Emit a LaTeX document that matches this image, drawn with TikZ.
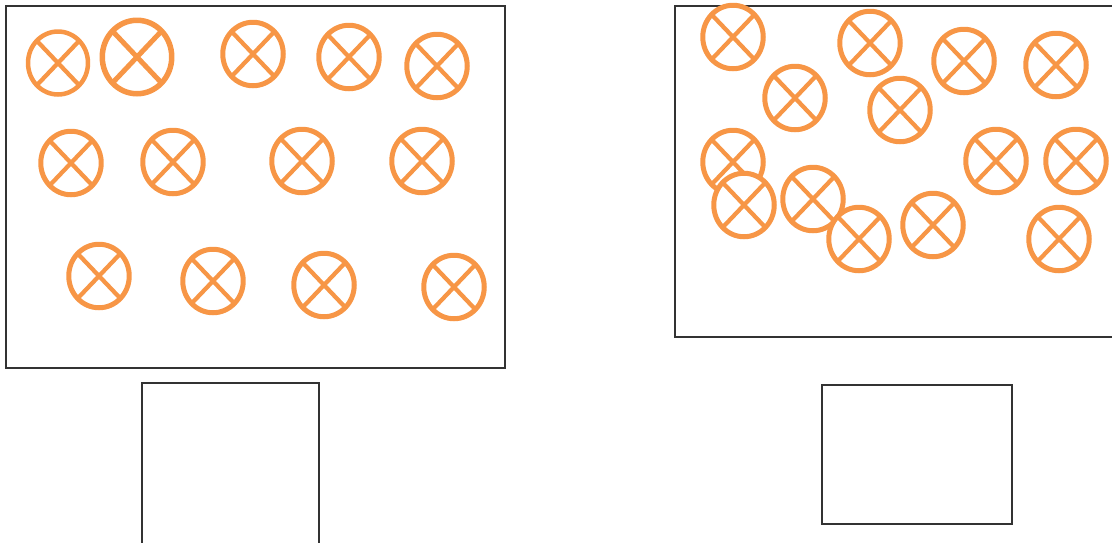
\documentclass[tikz,border=0pt]{standalone}
\usepackage{tikz}
\usetikzlibrary{shapes.geometric}
\definecolor{Mark}{HTML}{F79646}
\definecolor{Frame}{HTML}{333333}

\begin{document}
\begin{tikzpicture}[x=0.02cm,y=-0.02cm,
  frame/.style={draw=Frame,line width=0.025cm},
  xmark/.style={ellipse,draw=Mark,fill=white,line width=0.1cm,inner sep=0pt,
    minimum width=1.21cm,minimum height=1.27cm,
    path picture={\draw[Mark,line width=0.085cm]
      (path picture bounding box.north west) -- (path picture bounding box.south east)
      (path picture bounding box.north east) -- (path picture bounding box.south west);}}]
  \clip (0,0) rectangle (1112,542);
  % left room
  \draw[frame] (6,6) rectangle (505,368);
  \draw[frame] (142,383) rectangle (319,560);
  \node[xmark,minimum width=1.2cm,minimum height=1.26cm,line width=0.09cm] (l1) at (58,63) {};
  \node[xmark,minimum width=1.39cm,minimum height=1.47cm,line width=0.11cm,
    path picture={\draw[Mark,line width=0.1cm]
      (path picture bounding box.north west) -- (path picture bounding box.south east)
      (path picture bounding box.north east) -- (path picture bounding box.south west);}] (l2) at (137,57) {};
  \node[xmark] (l3) at (253,54) {};
  \node[xmark] (l4) at (349,57) {};
  \node[xmark] (l5) at (437,66) {};
  \node[xmark] (l6) at (71,163) {};
  \node[xmark] (l7) at (173,162) {};
  \node[xmark] (l8) at (302,161) {};
  \node[xmark] (l9) at (422,161) {};
  \node[xmark] (l10) at (99,276) {};
  \node[xmark] (l11) at (213,281) {};
  \node[xmark] (l12) at (324,285) {};
  \node[xmark] (l13) at (454,287) {};
  % right room
  \draw[frame] (675,6) rectangle (1130,337);
  \draw[frame] (822,385) rectangle (1012,524);
  \node[xmark] (r1) at (733,37) {};
  \node[xmark] (r2) at (795,98) {};
  \node[xmark] (r3) at (870,43) {};
  \node[xmark] (r4) at (900,110) {};
  \node[xmark] (r5) at (964,61) {};
  \node[xmark] (r6) at (1056,65) {};
  \node[xmark] (r7) at (733,162) {};
  \node[xmark] (r8) at (744,205) {};
  \node[xmark] (r9) at (813,199) {};
  \node[xmark] (r10) at (859,239) {};
  \node[xmark] (r11) at (933,225) {};
  \node[xmark] (r12) at (996,161) {};
  \node[xmark] (r13) at (1076,161) {};
  \node[xmark] (r14) at (1059,239) {};
\end{tikzpicture}
\end{document}
